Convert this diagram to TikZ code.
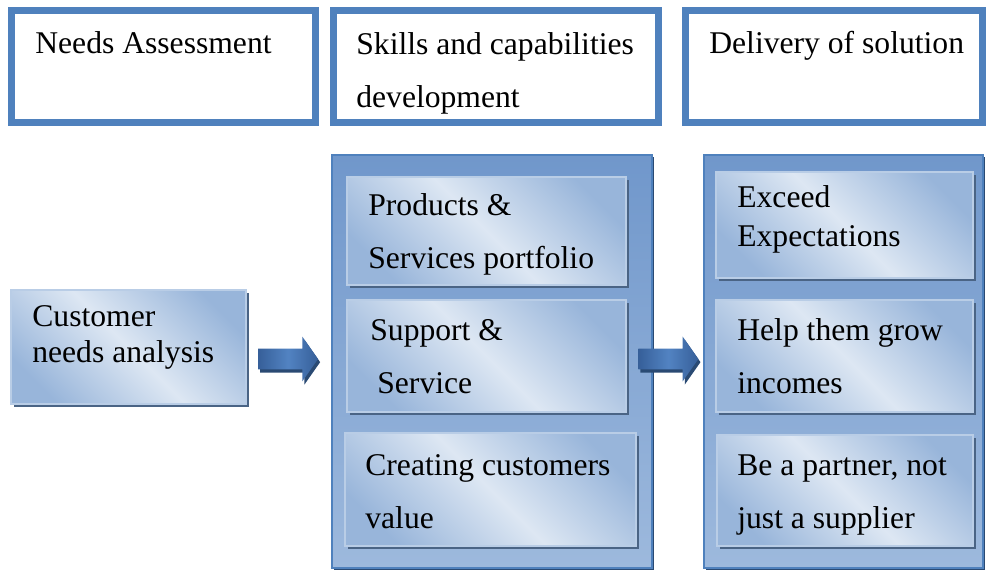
\documentclass[tikz,border=0pt]{standalone}
\usepackage{fontspec}
\setmainfont{Liberation Serif}
\usetikzlibrary{shapes.arrows,shadows,calc}
\definecolor{hdblue}{HTML}{4F81BD}
\definecolor{coltop}{HTML}{7097CB}
\definecolor{colbot}{HTML}{9DB9DD}
\definecolor{panelight}{HTML}{DDE7F3}
\definecolor{panedark}{HTML}{98B5DA}
\definecolor{paneedge}{HTML}{B9CDE6}
\definecolor{shadowblue}{HTML}{4A6485}
\definecolor{arrowdark}{HTML}{365F99}
\definecolor{arrowmid}{HTML}{5283C2}
\definecolor{arrowshadow}{HTML}{2A4A73}
\pgfdeclarehorizontalshading{paneshade}{100bp}{color(0bp)=(panedark); color(24bp)=(panedark); color(50bp)=(panelight); color(76bp)=(panedark); color(100bp)=(panedark)}

\begin{document}
\begin{tikzpicture}[x=0.02cm,y=-0.02cm,
  headbox/.style={draw=hdblue,line width=0.14cm,minimum height=2.24cm,inner sep=0pt},
  column/.style={draw=hdblue,line width=1.2pt,top color=coltop,bottom color=colbot,minimum height=8.26cm,inner sep=0pt,general shadow={fill=arrowshadow,shadow xshift=1.2pt,shadow yshift=-1.2pt}},
  pane/.style={draw=paneedge,line width=0.8pt,shading=paneshade,shading angle=45,inner sep=0pt,general shadow={fill=shadowblue,shadow xshift=1.8pt,shadow yshift=-1.8pt}},
  blockarrow/.style={single arrow,anchor=tail,single arrow tip angle=110,single arrow head extend=0.24cm,minimum height=1.2cm,inner xsep=0pt,inner ysep=0.2cm,left color=arrowdark,right color=arrowdark,middle color=arrowmid,general shadow={fill=arrowshadow,shadow xshift=1.2pt,shadow yshift=-1.8pt}},
  txt/.style={anchor=base west,align=left,inner sep=0pt,font=\fontsize{18}{30}\selectfont},
  txtclose/.style={txt,font=\fontsize{18}{22}\selectfont}]
\useasboundingbox (0,0) rectangle (987,572);
% header boxes
\node[headbox,minimum width=6.08cm] (hdNeeds) at (163.5,66.5) {};
\node[headbox,minimum width=6.5cm] (hdSkills) at (496,66.5) {};
\node[headbox,minimum width=5.94cm] (hdDelivery) at (834,66.5) {};
% text nodes sit on the baseline of their last line
\node[txt] (tNeeds) at (35,53) {Needs Assessment};
\node[txt] (tSkills) at (356,107) {Skills and capabilities\\development};
\node[txt] (tDelivery) at (709,53) {Delivery of solution};
% columns
\node[column,minimum width=6.4cm] (colSkills) at (492,361.5) {};
\node[column,minimum width=5.58cm] (colDelivery) at (843.5,361.5) {};
\node[pane,minimum width=4.7cm,minimum height=2.28cm] (paneCust) at (128.5,347) {};
\node[pane,minimum width=5.58cm,minimum height=2.16cm] (paneProd) at (486.5,231) {};
\node[pane,minimum width=5.58cm,minimum height=2.24cm] (paneSupp) at (486.5,356) {};
\node[pane,minimum width=5.82cm,minimum height=2.26cm] (paneValue) at (490.5,489.5) {};
\node[pane,minimum width=5.14cm,minimum height=2.12cm] (paneExceed) at (844.5,225) {};
\node[pane,minimum width=5.14cm,minimum height=2.24cm] (paneGrow) at (844.5,356) {};
\node[pane,minimum width=5.12cm,minimum height=2.22cm] (panePartner) at (845,490.5) {};
% texts
\node[txt,font=\fontsize{18}{20}\selectfont] (tCust) at (32,362) {Customer\\needs analysis};
\node[txt] (tProd) at (368,268) {Products \&\\Services portfolio};
\node[txt] (tSupp) at (370,393) {Support \&\\\hspace*{0.14cm}Service};
\node[txt] (tValue) at (365,528) {Creating customers\\value};
\node[txtclose] (tExceed) at (737,246) {Exceed\\Expectations};
\node[txt] (tGrow) at (737,393) {Help them grow\\incomes};
\node[txt] (tPartner) at (737,528) {Be a partner, not\\just a supplier};
% arrows
\node[blockarrow] (arrNeeds) at ($(paneCust.east)+(11,12)$) {};
\node[blockarrow] (arrSkills) at ($(colSkills.east)+(-15,-2.5)$) {};
\end{tikzpicture}
\end{document}
